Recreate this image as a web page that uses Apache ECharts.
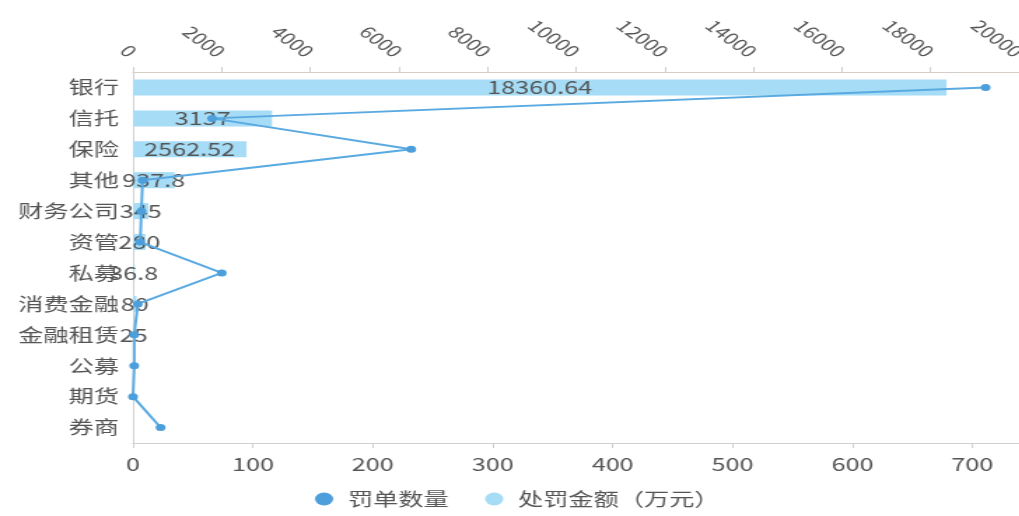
<!DOCTYPE html>
<html>
<head>
<meta charset="utf-8">
<script src="https://cdn.jsdelivr.net/npm/echarts@6/dist/echarts.min.js"></script>
<style>
  html, body { margin: 0; padding: 0; background: #fff; overflow: hidden; }
  /* the chart is drawn narrower and widened horizontally */
  #chart { width: 728px; height: 516px; transform: scaleX(1.4); transform-origin: 0 0; }
</style>
</head>
<body>
<div id="chart"></div>
<script>
// Institution types, top to bottom
const categories = ['银行', '信托', '保险', '其他', '财务公司', '资管', '私募', '消费金融', '金融租赁', '公募', '期货', '券商'];
// Number of penalty tickets per institution type
const ticketCounts = [711, 66, 232, 8, 7, 6, 74, 4, 1, 1, 0, 23];
// Penalty amount in 10k CNY (no bar for the last three types)
const penaltyAmounts = [18360.64, 3137, 2562.52, 937.8, 345, 280, 36.8, 80, 25, null, null, null];

const FONT = '"Noto Sans CJK SC", "Noto Sans", sans-serif';
const TEXT = '#555555';
const chart = echarts.init(document.getElementById('chart'), null, { renderer: 'canvas' });

chart.setOption({
  animation: false,
  backgroundColor: '#ffffff',
  textStyle: { fontFamily: FONT },
  color: ['#4d9fdc', '#a6dcf5'],
  legend: {
    bottom: 3,
    left: 220,
    icon: 'circle',
    itemWidth: 14,
    itemHeight: 13,
    itemGap: 26,
    textStyle: { fontSize: 18, color: TEXT, fontFamily: FONT, padding: [0, 0, 0, 5] },
    data: ['罚单数量', '处罚金额（万元）']
  },
  grid: { left: 95, right: 0, top: 72, bottom: 73, containLabel: false, outerBoundsMode: 'none' },
  yAxis: {
    type: 'category',
    data: categories,
    inverse: true,
    axisLine: { lineStyle: { color: '#cfcfcf' } },
    axisTick: { lineStyle: { color: '#cfcfcf' } },
    axisLabel: { fontSize: 18, color: TEXT, margin: 10, fontFamily: FONT }
  },
  xAxis: [
    {
      type: 'value',
      position: 'bottom',
      min: 0,
      max: 739,
      interval: 100,
      splitLine: { show: false },
      axisLine: { show: true, lineStyle: { color: '#cfcfcf' } },
      axisTick: { show: true, lineStyle: { color: '#cfcfcf' } },
      axisLabel: { fontSize: 18, color: TEXT, margin: 12, showMaxLabel: false, fontFamily: FONT }
    },
    {
      type: 'value',
      position: 'top',
      min: 0,
      max: 20000,
      interval: 2000,
      splitLine: { show: false },
      axisLine: { show: true, lineStyle: { color: '#d6cdc6' } },
      axisTick: { show: true, lineStyle: { color: '#d6cdc6' } },
      axisLabel: {
        fontSize: 16, color: TEXT, rotate: 45, margin: 18, fontFamily: FONT,
        formatter: (v) => String(v)
      }
    }
  ],
  series: [
    {
      name: '处罚金额（万元）',
      type: 'bar',
      xAxisIndex: 1,
      data: penaltyAmounts,
      barWidth: 16,
      itemStyle: { color: '#a6dcf5' },
      label: {
        show: true,
        position: 'inside',
        color: TEXT,
        fontSize: 18,
        fontFamily: FONT
      },
      z: 2
    },
    {
      name: '罚单数量',
      type: 'line',
      xAxisIndex: 0,
      data: ticketCounts,
      symbol: 'circle',
      symbolSize: 7,
      lineStyle: { color: '#5aaae2', width: 2 },
      itemStyle: { color: '#4d9fdc' },
      z: 3
    }
  ]
});
</script>
</body>
</html>
